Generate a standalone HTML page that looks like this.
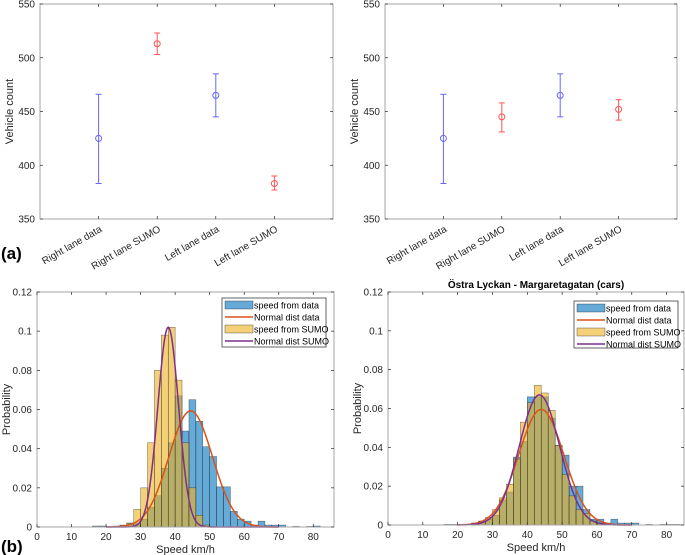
<!DOCTYPE html>
<html><head><meta charset="utf-8">
<style>
html,body{margin:0;padding:0;background:#fff;}
svg{display:block;font-family:"Liberation Sans",sans-serif;}
</style></head>
<body>
<svg id="fig" width="685" height="555" viewBox="0 0 685 555" xmlns="http://www.w3.org/2000/svg">
<text x="1" y="259" font-size="17" font-weight="bold" fill="#000">(a)</text>
<text x="1" y="552" font-size="17" font-weight="bold" fill="#000">(b)</text>
</svg>
<script>
// ---------- data ----------
const laneCategories = ["Right lane data","Right lane SUMO","Left lane data","Left lane SUMO"];
const countTicks = [350,400,450,500,550];
const leftCountMeans = [425,513,465,383];
const leftCountLow = [383,503,445,377];
const leftCountHigh = [466,523,485,390];
const rightCountMeans = [425,445,465,452];
const rightCountLow = [383,431,445,442];
const rightCountHigh = [466,458,485,461];
const countColors = ["#6666ff","#ff5555","#6666ff","#ff5555"];

const binStarts = [16,18,20,22,24,26,28,30,32,34,36,38,40,42,44,46,48,50,52,54,56,58,60,62,64,66,68,70,72,74,76,78,80,82];
const leftDataProb = [0.0005,0.0005,0,0.0005,0.001,0.002,0.002,0.004,0.010,0.016,0.030,0.043,0.067,0.049,0.065,0.054,0.041,0.036,0.0205,0.0205,0.008,0.004,0.003,0.001,0.003,0.001,0.001,0.001,0,0.0003,0,0.0003,0.0005,0];
const leftSumoProb = [0,0,0,0,0.0005,0.002,0.009,0.020,0.043,0.080,0.098,0.102,0.075,0.043,0.020,0.006,0.001,0.0003,0,0,0,0,0,0,0,0,0,0,0,0,0,0,0,0];
const rightDataProb = [0.0003,0.0003,0,0.0003,0.001,0.002,0.003,0.005,0.013,0.017,0.035,0.043,0.066,0.066,0.066,0.055,0.041,0.036,0.020,0.020,0.008,0.003,0.003,0.001,0.003,0.001,0.001,0.001,0,0.0003,0,0.0003,0.0003,0.0003];
const rightSumoProb = [0,0,0,0.0003,0.001,0.002,0.004,0.008,0.014,0.021,0.034,0.053,0.063,0.072,0.068,0.059,0.041,0.026,0.015,0.008,0.006,0.002,0.001,0.0005,0,0,0,0,0,0,0,0,0,0];
// fitted normal parameters [data, SUMO]
const leftFitMeans = [44.5,38.0];
const leftFitSds = [6.3,3.0];
const leftFitPeaks = [0.0593,0.102];
const rightFitMeans = [44.0,43.5];
const rightFitSds = [6.5,5.8];
const rightFitPeaks = [0.0595,0.067];
const speedTicks = [0,10,20,30,40,50,60,70,80];
const probTicks = [0,0.02,0.04,0.06,0.08,0.1,0.12];
const probTickLabels = ["0","0.02","0.04","0.06","0.08","0.1","0.12"];
const legendLabels = ["speed from data","Normal dist data","speed from SUMO","Normal dist SUMO"];

// ---------- drawing ----------
const NS="http://www.w3.org/2000/svg";
const svg=document.getElementById('fig');
function mk(tag,attrs,parent){const e=document.createElementNS(NS,tag);for(const k in attrs)e.setAttribute(k,attrs[k]);(parent||svg).appendChild(e);return e;}
function lin(d0,d1,r0,r1){return v=>r0+(v-d0)/(d1-d0)*(r1-r0);}
const AX="#262626";

function box(g,x0,y0,x1,y1){
  const r=mk('rect',{x:x0,y:y0,width:x1-x0,height:y1-y0,fill:'none',stroke:'#a6a6a6','stroke-width':1},g);
  
  
}

function errorPanel(name,x0,y0,x1,y1,means,lows,highs){
  const g=mk('g',{});
  
  
  box(g,x0,y0,x1,y1);
  const sx=lin(0,5,x0,x1), sy=lin(350,550,y1,y0);
  countTicks.forEach(t=>{
    const y=sy(t);
    mk('line',{x1:x0,y1:y,x2:x0+3,y2:y,stroke:AX,'stroke-width':0.7},g);
    mk('line',{x1:x1,y1:y,x2:x1-3,y2:y,stroke:AX,'stroke-width':0.7},g);
    const tx=mk('text',{x:x0-5,y:y+3.5,'font-size':10,'text-anchor':'end',fill:AX},g);
    tx.textContent=t;
    
    
  });
  const yt=mk('text',{x:0,y:0,'font-size':11,'text-anchor':'middle',fill:AX,transform:`translate(${x0-27},${(y0+y1)/2}) rotate(-90)`},g);
  yt.textContent="Vehicle count";
  
  
  laneCategories.forEach((c,i)=>{
    const x=sx(i+1);
    mk('line',{x1:x,y1:y1,x2:x,y2:y1-3,stroke:AX,'stroke-width':0.7},g);
    mk('line',{x1:x,y1:y0,x2:x,y2:y0+3,stroke:AX,'stroke-width':0.7},g);
    const tl=mk('text',{x:0,y:0,'font-size':10,'text-anchor':'end',fill:AX,transform:`translate(${x+4},${y1+12}) rotate(-30)`},g);
    tl.textContent=c;
    
    
    const col=countColors[i];
    const eb=mk('g',{stroke:col,fill:'none','stroke-width':1},g);
    
    
    mk('line',{x1:x,y1:sy(lows[i]),x2:x,y2:sy(highs[i])},eb);
    mk('line',{x1:x-3,y1:sy(lows[i]),x2:x+3,y2:sy(lows[i])},eb);
    mk('line',{x1:x-3,y1:sy(highs[i]),x2:x+3,y2:sy(highs[i])},eb);
    mk('circle',{cx:x,cy:sy(means[i]),r:3},eb);
  });
}

function histPanel(name,x0,y0,x1,y1,xmax,dataP,sumoP,means,sds,peaks,lg,title){
  const g=mk('g',{});
  
  
  const sx=lin(0,xmax,x0,x1), sy=lin(0,0.12,y1,y0);
  [[dataP,'#0072BD','bar-data'],[sumoP,'#EDB120','bar-sumo']].forEach(([arr,col,nm])=>{
    arr.forEach((v,i)=>{
      if(v<=0)return;
      const b=binStarts[i];
      const r=mk('rect',{x:sx(b),y:sy(v),width:sx(b+2)-sx(b),height:sy(0)-sy(v),fill:col,'fill-opacity':0.6,stroke:'#000','stroke-opacity':0.55,'stroke-width':0.5},g);
      
      
    });
  });
  [['#D95319','normal-curve-data'],['#7E2F8E','normal-curve-sumo']].forEach(([col,nm],k)=>{
    let d='';
    for(let s=20;s<=70;s+=0.25){
      const v=peaks[k]*Math.exp(-0.5*Math.pow((s-means[k])/sds[k],2));
      d+=(d?'L':'M')+sx(s).toFixed(2)+' '+sy(v).toFixed(2);
    }
    const p=mk('path',{d:d,fill:'none',stroke:col,'stroke-width':1.5},g);
    
    
  });
  box(g,x0,y0,x1,y1);
  probTicks.forEach((t,i)=>{
    const y=sy(t);
    mk('line',{x1:x0,y1:y,x2:x0+3,y2:y,stroke:AX,'stroke-width':0.7},g);
    mk('line',{x1:x1,y1:y,x2:x1-3,y2:y,stroke:AX,'stroke-width':0.7},g);
    const tx=mk('text',{x:x0-5,y:y+3.5,'font-size':10,'text-anchor':'end',fill:AX},g);
    tx.textContent=probTickLabels[i];
    
    
  });
  speedTicks.forEach(t=>{
    const x=sx(t);
    mk('line',{x1:x,y1:y1,x2:x,y2:y1-3,stroke:AX,'stroke-width':0.7},g);
    mk('line',{x1:x,y1:y0,x2:x,y2:y0+3,stroke:AX,'stroke-width':0.7},g);
    const tx=mk('text',{x:x,y:y1+13,'font-size':10,'text-anchor':'middle',fill:AX},g);
    tx.textContent=t;
    
    
  });
  const xt=mk('text',{x:(x0+x1)/2,y:y1+26,'font-size':11,'text-anchor':'middle',fill:AX},g);
  xt.textContent="Speed km/h";
  
  
  const yt=mk('text',{x:0,y:0,'font-size':11,'text-anchor':'middle',fill:AX,transform:`translate(${x0-27},${(y0+y1)/2}) rotate(-90)`},g);
  yt.textContent="Probability";
  
  
  if(title){
    const tt=mk('text',{x:(x0+x1)/2,y:y0-4,'font-size':10,'font-weight':'bold','text-anchor':'middle',fill:'#000'},g);
    tt.textContent=title;
    
    
  }
  // legend
  const L=mk('g',{},g);
  
  
  mk('rect',{x:lg[0],y:lg[1],width:lg[2],height:lg[3],fill:'#fff',stroke:'#262626','stroke-width':0.7},L);
  const cols=['#0072BD','#D95319','#EDB120','#7E2F8E'];
  legendLabels.forEach((lab,i)=>{
    const ey=lg[1]+7+i*12;
    const e=mk('g',{},L);
    
    
    if(i%2===0){
      mk('rect',{x:lg[0]+3,y:ey-4,width:28,height:8,fill:cols[i],'fill-opacity':0.6,stroke:'#000','stroke-opacity':0.6,'stroke-width':0.5},e);
    } else {
      mk('line',{x1:lg[0]+3,y1:ey,x2:lg[0]+31,y2:ey,stroke:cols[i],'stroke-width':1.5},e);
    }
    const t=mk('text',{x:lg[0]+32,y:ey+3.5,'font-size':9,fill:'#000'},e);
    t.textContent=lab;
  });
}

errorPanel('vehicle-count-chart-left',40,4,333,219,leftCountMeans,leftCountLow,leftCountHigh);
errorPanel('vehicle-count-chart-right',385,4,677,219,rightCountMeans,rightCountLow,rightCountHigh);
histPanel('speed-histogram-left',37,292,334,527,86,leftDataProb,leftSumoProb,leftFitMeans,leftFitSds,leftFitPeaks,[222,298,104,49],null);
histPanel('speed-histogram-right',388,292,684,525,85,rightDataProb,rightSumoProb,rightFitMeans,rightFitSds,rightFitPeaks,[574,301,104,47],"Östra Lyckan - Margaretagatan (cars)");
</script>
</body></html>
